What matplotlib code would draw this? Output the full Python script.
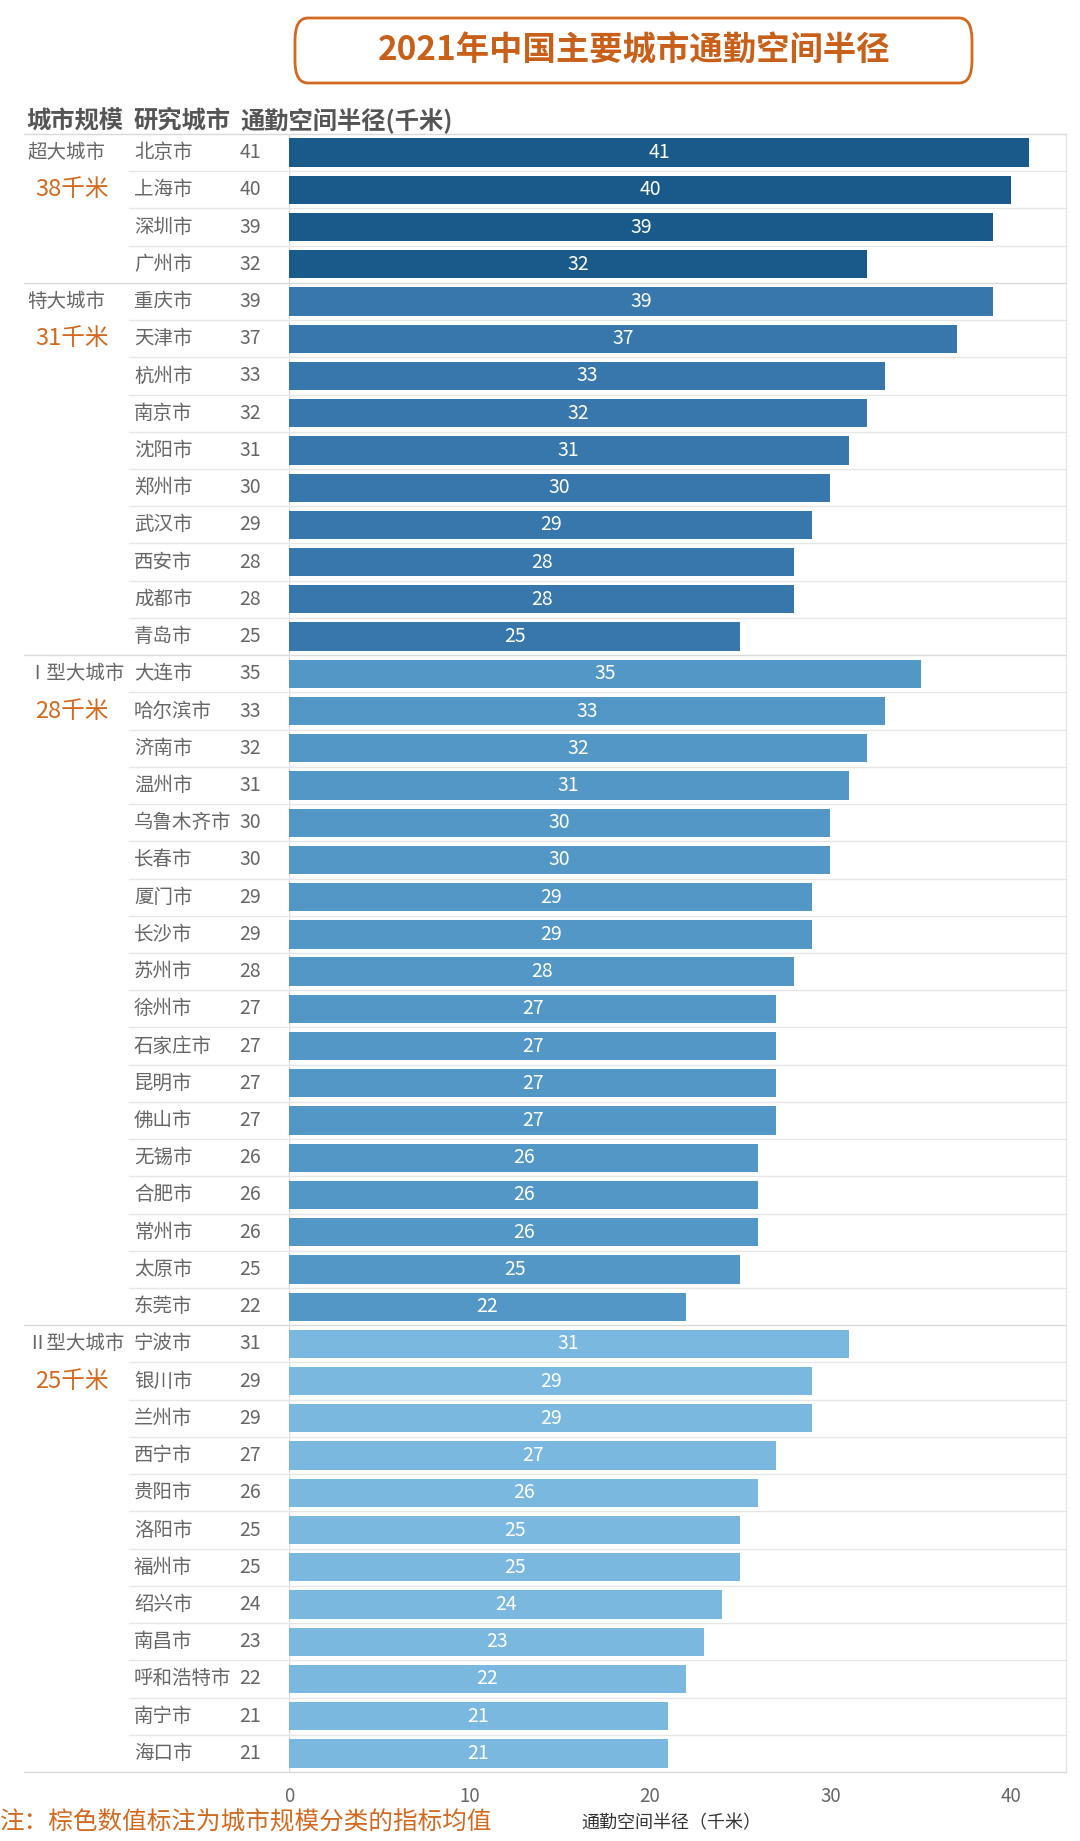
import matplotlib
matplotlib.use("Agg")
import matplotlib.pyplot as plt
from matplotlib.transforms import blended_transform_factory
from matplotlib.patches import FancyBboxPatch

plt.rcParams['font.family'] = ['Noto Sans CJK SC', 'DejaVu Sans']

title = "2021年中国主要城市通勤空间半径"
groups = ["超大城市", "特大城市", "Ⅰ型大城市", "Ⅱ型大城市"]
group_means = ["38千米", "31千米", "28千米", "25千米"]
group_colors = ["#1A5A8B", "#3777AB", "#5397C6", "#7AB8DF"]

cities_super = ["北京市", "上海市", "深圳市", "广州市"]
values_super = [41, 40, 39, 32]
cities_mega = ["重庆市", "天津市", "杭州市", "南京市", "沈阳市", "郑州市", "武汉市",
               "西安市", "成都市", "青岛市"]
values_mega = [39, 37, 33, 32, 31, 30, 29, 28, 28, 25]
cities_large1 = ["大连市", "哈尔滨市", "济南市", "温州市", "乌鲁木齐市", "长春市", "厦门市",
                 "长沙市", "苏州市", "徐州市", "石家庄市", "昆明市", "佛山市", "无锡市",
                 "合肥市", "常州市", "太原市", "东莞市"]
values_large1 = [35, 33, 32, 31, 30, 30, 29, 29, 28, 27, 27, 27, 27, 26, 26, 26, 25, 22]
cities_large2 = ["宁波市", "银川市", "兰州市", "西宁市", "贵阳市", "洛阳市", "福州市",
                 "绍兴市", "南昌市", "呼和浩特市", "南宁市", "海口市"]
values_large2 = [31, 29, 29, 27, 26, 25, 25, 24, 23, 22, 21, 21]

header = ["城市规模", "研究城市", "通勤空间半径(千米)"]
xticks = [0, 10, 20, 30, 40]
xlabel = "通勤空间半径（千米）"
note = "注：棕色数值标注为城市规模分类的指标均值"

all_cities = [cities_super, cities_mega, cities_large1, cities_large2]
all_values = [values_super, values_mega, values_large1, values_large2]

W, H = 1080, 1841
fig = plt.figure(figsize=(W / 100, H / 100), dpi=100)
ORANGE = "#D2691E"
GRAY = "#666666"

ax_left, ax_right = 289 / W, 1066 / W
ax_top, ax_bot = 1 - 134 / H, 1 - 1772 / H
ax = fig.add_axes([ax_left, ax_bot, ax_right - ax_left, ax_top - ax_bot])

n = sum(len(c) for c in all_cities)
ax.set_ylim(n - 0.5, -0.5)
ax.set_xlim(0, 43.05)
ax.set_yticks([])
ax.set_xticks(xticks)
ax.tick_params(axis='x', length=0, labelsize=13.5, labelcolor=GRAY, pad=10)
for s in ["top", "left", "bottom"]:
    ax.spines[s].set_visible(False)
ax.spines["right"].set_color("#E3E3E3")
ax.axvline(0, color="#DDDDDD", lw=1, zorder=0)

trans = blended_transform_factory(fig.transFigure, ax.transData)

row = 0
for gi, (cities, vals) in enumerate(zip(all_cities, all_values)):
    ys = list(range(row, row + len(cities)))
    ax.barh(ys, vals, height=0.76, color=group_colors[gi], zorder=2)
    for y, c, v in zip(ys, cities, vals):
        ax.text(v / 2, y, str(v), ha="center", va="center", color="white",
                fontsize=14, zorder=3)
        ax.text(134 / W, y, c, transform=trans, ha="left", va="center",
                color=GRAY, fontsize=14)
        ax.text(250 / W, y, str(v), transform=trans, ha="center", va="center",
                color=GRAY, fontsize=14)
        if y != ys[0]:
            ax.plot([129 / W, 1066 / W], [y - 0.5, y - 0.5], transform=trans,
                    color="#E6E6E6", lw=1, clip_on=False, zorder=1)
    # group separator
    ax.plot([24 / W, 1066 / W], [row - 0.5, row - 0.5], transform=trans,
            color="#D9D9D9", lw=1, clip_on=False, zorder=1)
    ax.text(27 / W, row, groups[gi], transform=trans, ha="left", va="center",
            color=GRAY, fontsize=14)
    ax.text(72 / W, row + 1, group_means[gi], transform=trans, ha="center",
            va="center", color=ORANGE, fontsize=17)
    row += len(cities)

# bottom line
ax.plot([24 / W, 1066 / W], [n - 0.5, n - 0.5], transform=trans,
        color="#D9D9D9", lw=1, clip_on=False, zorder=1)

# header
for xpos, txt in zip([26, 134, 240], header):
    fig.text(xpos / W, 1 - 121 / H, txt, ha="left", va="center",
             fontsize=17.5, fontweight="bold", color="#555555")

# title box
box = FancyBboxPatch((295 / W, 1 - 83 / H), (972 - 295) / W, 65 / H,
                     boxstyle="round,pad=0,rounding_size=0.012",
                     transform=fig.transFigure, facecolor="white",
                     edgecolor=ORANGE, lw=2)
fig.patches.append(box)
fig.text(634 / W, 1 - 51 / H, title, ha="center", va="center", fontsize=24,
         fontweight="bold", color="#C8601A")

# x label and note
fig.text(671 / W, 1 - 1823 / H, xlabel, ha="center", va="center",
         fontsize=13, color="#333333")
fig.text(0, 1 - 1823 / H, note, ha="left", va="center", fontsize=17.7,
         color=ORANGE)

fig.savefig("out.png", dpi=100, facecolor="white")
